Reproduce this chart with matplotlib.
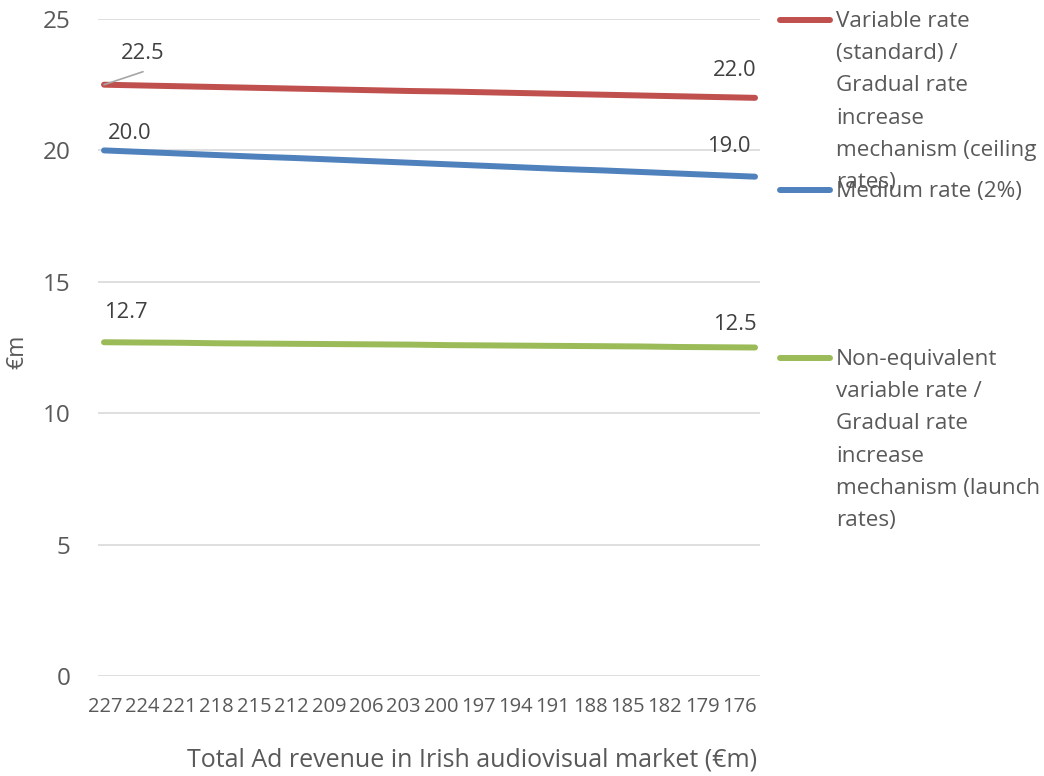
import matplotlib
matplotlib.use("Agg")
import matplotlib.pyplot as plt
from matplotlib.lines import Line2D

plt.rcParams['font.family'] = ['Open Sans', 'DejaVu Sans']

# total ad revenue (€m), falling left to right
revenue = [227, 224, 221, 218, 215, 212, 209, 206, 203, 200,
           197, 194, 191, 188, 185, 182, 179, 176]

variable_rate = [22.50, 22.47, 22.44, 22.41, 22.38, 22.35, 22.32, 22.29, 22.26,
                 22.24, 22.21, 22.18, 22.15, 22.12, 22.09, 22.06, 22.03, 22.00]
medium_rate = [20.00, 19.94, 19.88, 19.82, 19.76, 19.71, 19.65, 19.59, 19.53,
               19.47, 19.41, 19.35, 19.29, 19.24, 19.18, 19.12, 19.06, 19.00]
launch_rate = [12.70, 12.69, 12.68, 12.66, 12.65, 12.64, 12.63, 12.62, 12.61,
               12.59, 12.58, 12.57, 12.56, 12.55, 12.54, 12.52, 12.51, 12.50]

series_labels = [
    "Variable rate\n(standard) /\nGradual rate\nincrease\nmechanism (ceiling\nrates)",
    "Medium rate (2%)",
    "Non-equivalent\nvariable rate /\nGradual rate\nincrease\nmechanism (launch\nrates)",
]
colors = ["#C0504D", "#4F81BD", "#9BBB59"]
text_col = "#595959"
label_col = "#404040"

fig = plt.figure(figsize=(10.44, 7.76), dpi=100)
ax = fig.add_axes([98 / 1044, 100 / 776, 662 / 1044, 657 / 776])

x = list(range(len(revenue)))
all_series = [variable_rate, medium_rate, launch_rate]
for ys, c in zip(all_series, colors):
    ax.plot(x, ys, color=c, lw=4.3, solid_capstyle='round', zorder=3)

ax.set_xlim(-0.157, 17.13)
ax.set_ylim(0, 25)
ax.set_yticks([0, 5, 10, 15, 20, 25])
# category labels sit packed a little tighter than the points
ax.set_xticks([i * 0.975 + 0.02 for i in x])
ax.set_xticklabels([str(r) for r in revenue])
ax.grid(axis='y', color='#D9D9D9', lw=1.2)
ax.grid(axis='x', visible=False)
ax.set_axisbelow(True)
for s in ax.spines.values():
    s.set_visible(False)
ax.tick_params(axis='both', length=0, colors=text_col)
ax.tick_params(axis='y', labelsize=17.5, pad=20)
ax.tick_params(axis='x', labelsize=14.5, pad=15)

# value labels on the first and last point of each line (pixel offsets)
offsets = [((39, 31), (-20, 27)), ((26, 17), (-26, 30)), ((22, 30), (-20, 23))]
for ys, (o_first, o_last) in zip(all_series, offsets):
    for i, off in ((0, o_first), (len(ys) - 1, o_last)):
        ax.annotate(f"{ys[i]:.1f}", (x[i], ys[i]), xytext=off,
                    textcoords='offset pixels', ha='center', va='center',
                    fontsize=15.8, color=label_col, zorder=4)

# leader line for the 22.5 label
ax.annotate("", (x[0], variable_rate[0]), xytext=(39, 13),
            textcoords='offset pixels',
            arrowprops=dict(arrowstyle='-', color='#A6A6A6', lw=1.2,
                            shrinkA=0, shrinkB=0))

fig.text(17 / 1044, 1 - 352 / 776, "€m", rotation=90, ha='center', va='center',
         fontsize=16.5, color=text_col)
fig.text(757 / 1044, 1 - 760 / 776,
         "Total Ad revenue in Irish audiovisual market (€m)",
         ha='right', va='center', fontsize=18, color=text_col)

# legend drawn by hand at the right side
legend_y = [20, 190, 358]
for lab, c, py in zip(series_labels, colors, legend_y):
    yf = 1 - py / 776
    fig.add_artist(Line2D([780 / 1044, 830 / 1044], [yf, yf], color=c, lw=4.3,
                          solid_capstyle='round', transform=fig.transFigure))
    fig.text(836 / 1044, 1 - (py - 9) / 776, lab, ha='left', va='top',
             fontsize=16.2, color=text_col, linespacing=1.70)

fig.savefig("out.png", dpi=100)
